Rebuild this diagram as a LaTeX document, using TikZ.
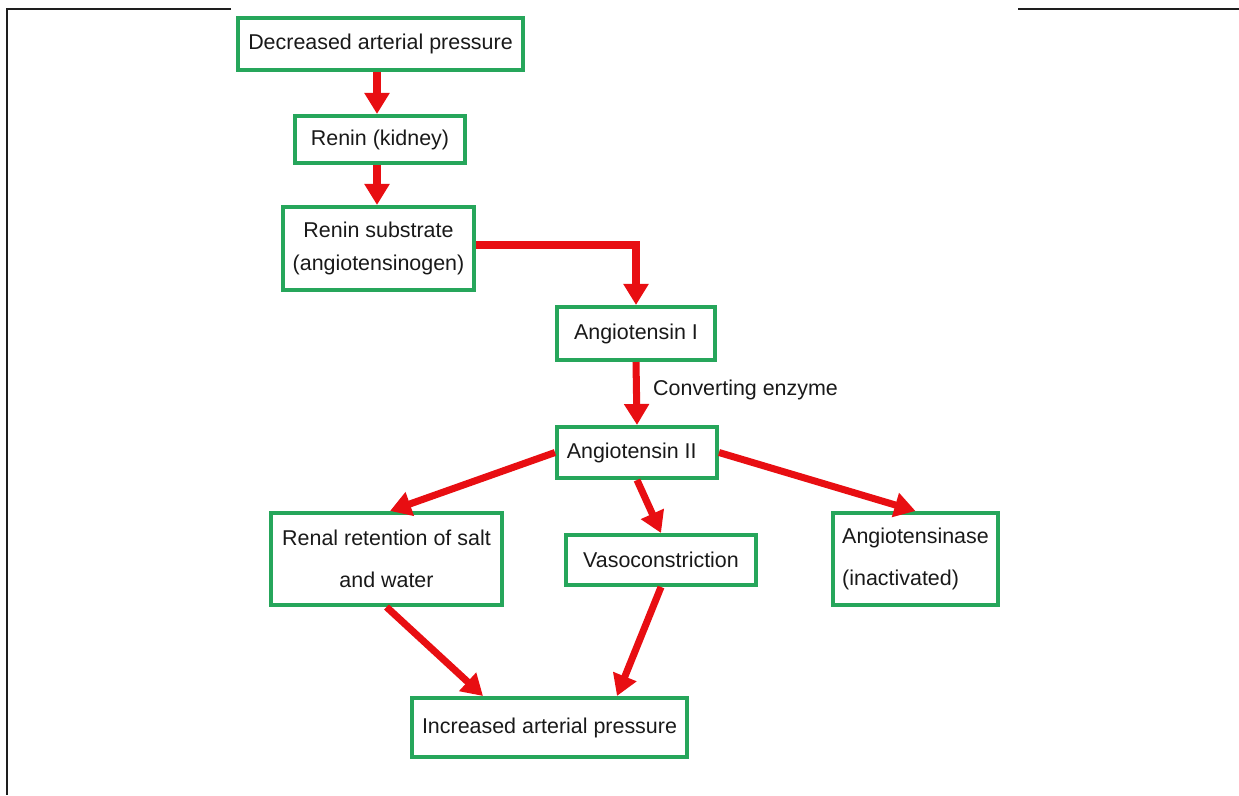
\documentclass[tikz,border=0pt]{standalone}
\usepackage{fontspec}
\setmainfont{Liberation Sans}
\usetikzlibrary{arrows.meta,calc}
\definecolor{boxgreen}{RGB}{38,166,91}
\definecolor{arrred}{RGB}{232,14,18}
\definecolor{framegray}{RGB}{30,30,30}
\tikzset{
  box/.style={draw=boxgreen, line width=2.3pt, rectangle, inner sep=2pt, align=center, font=\fontsize{12.2}{14.6}\selectfont, text=black!90},
  arr/.style={draw=arrred, line width=4pt, -{Triangle[length=0.42cm,width=0.48cm]}},
  framel/.style={draw=framegray, line width=1.1pt},
  lbl/.style={font=\fontsize{12.2}{14.6}\selectfont, text=black!90}
}
\begin{document}
\begin{tikzpicture}[x=0.02cm,y=-0.02cm]
\useasboundingbox (0,0) rectangle (1239,795);
% frame
\coordinate (f1) at (7,9);
\coordinate (f2) at (231,9);
\coordinate (f3) at (1018,9);
\coordinate (f4) at (1239,9);
\coordinate (f5) at (7,795);
\draw[framel] (f2) -- (f1) -- (f5);
\draw[framel] (f3) -- (f4);
% boxes
\node[box, minimum width=5.70cm, minimum height=1.04cm] (b1) at (380.5,44) {Decreased arterial pressure};
\node[box, minimum width=3.40cm, minimum height=0.94cm] (b2) at (380,139.5) {Renin (kidney)};
\node[box, minimum width=3.82cm, minimum height=1.66cm] (b3) at (378.5,248.5) {Renin substrate\\[4pt](angiotensinogen)};
\node[box, minimum width=3.16cm, minimum height=1.06cm] (b4) at (636,333.5) {Angiotensin I};
\node[box, minimum width=3.20cm, minimum height=1.02cm] (b5) at (637,452.5) {Angiotensin II\hspace{6pt}};
\node[box, minimum width=4.62cm, minimum height=1.84cm] (b6) at (386.5,559) {Renal retention of salt\\[9pt]and water};
\node[box, minimum width=3.80cm, minimum height=1.00cm] (b7) at (661,560) {Vasoconstriction};
\node[box, minimum width=3.30cm, minimum height=1.84cm, align=left] (b8) at (915.5,559) {Angiotensinase\\[9pt](inactivated)};
\node[box, minimum width=5.50cm, minimum height=1.18cm] (b9) at (549.5,727.5) {Increased arterial pressure};
% helper coordinates
\coordinate (xa) at (377,0);
\coordinate (t1) at (483,0);
\coordinate (t2) at (617,0);
\coordinate (t3) at (390,0);
\coordinate (ya) at (0,245);
% arrows
\draw[arr] (b1.south -| xa) -- (b2.north -| xa);
\draw[arr] (b2.south -| xa) -- (b3.north -| xa);
\draw[arr] (b3.east |- ya) -- (b4.north |- ya) -- (b4.north);
\draw[arr] (b4.south) -- (b5.north);
\node[lbl, anchor=west] (ce) at (647,390) {Converting enzyme};
\draw[arr] (b5.west) -- (b6.north -| t3);
\draw[arr] (b5.south) -- (b7.north);
\draw[arr] (b5.east) -- (b8.north);
\draw[arr] (b6.south) -- (b9.north -| t1);
\draw[arr] (b7.south) -- (b9.north -| t2);
\end{tikzpicture}
\end{document}
